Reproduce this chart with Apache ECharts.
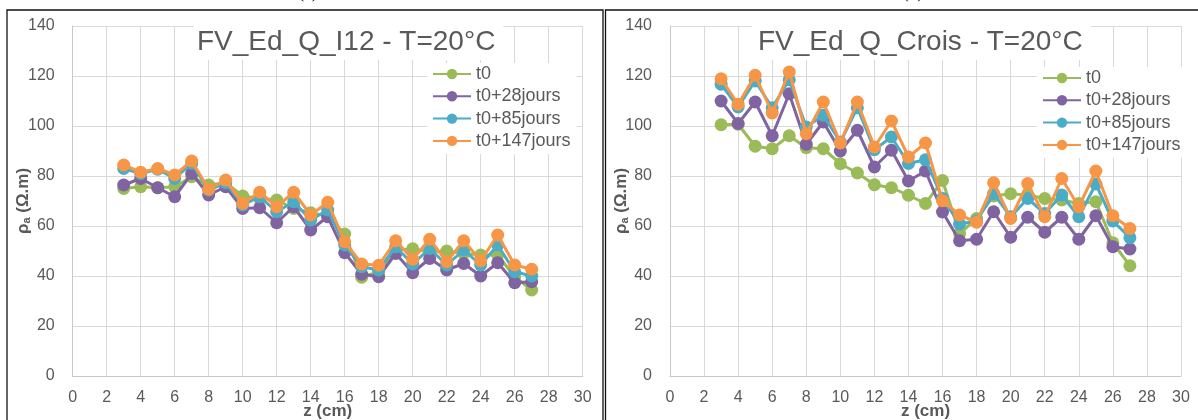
<!DOCTYPE html>
<html>
<head>
<meta charset="utf-8">
<script src="https://cdn.jsdelivr.net/npm/echarts@6/dist/echarts.min.js"></script>
<style>
html,body{margin:0;padding:0;background:#fff;}
#c{width:1198px;height:420px;}
</style>
</head>
<body>
<div id="c"></div>
<script>
// ---- data ----
const z = [3,4,5,6,7,8,9,10,11,12,13,14,15,16,17,18,19,20,21,22,23,24,25,26,27];
const seriesNames = ['t0','t0+28jours','t0+85jours','t0+147jours'];
const xTicks = [0,2,4,6,8,10,12,14,16,18,20,22,24,26,28,30];
const yTicks = [0,20,40,60,80,100,120,140];

// Left panel: FV_Ed_Q_I12
const leftT0   = [75,75.7,75.3,75.7,79.7,76.4,77.3,72,71,70.4,67,65.3,64,56.8,39.5,41.7,50.4,50.9,49.5,50,49,48.4,48.4,39.7,34.4];
const leftT28  = [76.4,79,75.3,71.7,81,72.4,75.7,67,67.3,61.3,67.7,58.4,63.7,49.3,40.7,39.7,49,41.3,47,42.4,45,40,45.3,37.3,37.7];
const leftT85  = [83,81,82.7,79,85,74.4,77.3,68.4,71.7,65.7,69.7,62.4,66.4,52.4,43.7,42.4,51.7,44.8,51,44.4,50.4,44.4,52.4,41.7,40];
const leftT147 = [84.4,81.5,83,80.4,86,74.7,78.4,69,73.5,67.7,73.5,64.4,69.5,53.7,44.8,44.3,54.1,46.7,54.7,45.7,54.1,46.1,56.4,44.4,42.7];

// Right panel: FV_Ed_Q_Crois
const rightT0   = [100.5,100.7,91.9,90.9,96.1,91.3,90.9,84.9,81.2,76.5,75.3,72.3,69,78.2,57,63,72,72.9,72.4,71,70.4,69,69.7,53.3,44.1];
const rightT28  = [110,101,109.6,96.1,112.9,92.7,101.6,90,98.3,83.6,90.3,78,82,65.6,54.1,54.7,65.7,55.5,63.5,57.5,63.5,54.7,64.1,51.7,50.8];
const rightT85  = [116.7,107.6,118,107.3,118.5,99.6,104.3,93.6,107.3,90.5,95.6,85,86.5,71,60.8,62,73,63.7,71,65,72.4,63.7,76.8,62,55.3];
const rightT147 = [118.9,108.7,120.3,105.2,121.6,96.9,109.6,93.2,109.6,91.6,102,87.6,93.2,70.1,64.4,61.5,77.3,63,77,63.7,79,67.7,82,64.1,59];

const titles = ['FV_Ed_Q_I12 - T=20°C','FV_Ed_Q_Crois - T=20°C'];
const panelLabels = ['(a)','(b)'];
const xName = 'z (cm)';
// ---- end data ----

const colors = ['#9BBB59','#8064A2','#4BACC6','#F79646'];
const txt = '#595959';
const font = 'Liberation Sans, Arial, sans-serif';

function pairs(vals){ return z.map((x,i)=>[x, vals[i]]); }

const chart = echarts.init(document.getElementById('c'), null, {renderer:'canvas'});

function xAxis(idx){
  return {
    type:'value', gridIndex:idx, min:xTicks[0], max:xTicks[xTicks.length-1], interval:2,
    name:xName, nameLocation:'middle', nameGap:27, nameMoveOverlap:false,
    nameTextStyle:{color:txt, fontSize:17, fontWeight:'bold', fontFamily:font},
    axisLine:{show:true, lineStyle:{color:'#c8c8c8', width:1}},
    axisTick:{show:false},
    axisLabel:{color:txt, fontSize:16, fontFamily:font, margin:14},
    splitLine:{show:true, lineStyle:{color:'#d9d9d9', width:1}}
  };
}
function yAxis(idx){
  return {
    type:'value', gridIndex:idx, min:yTicks[0], max:yTicks[yTicks.length-1], interval:20,
    name:'{b|ρ}{s|a}{b| (Ω.m)}', nameLocation:'middle', nameGap:40, nameRotate:90, nameMoveOverlap:false,
    nameTextStyle:{rich:{
      b:{color:txt, fontSize:17, fontWeight:'bold', fontFamily:font, lineHeight:18},
      s:{color:txt, fontSize:11, fontWeight:'bold', fontFamily:font, verticalAlign:'bottom', lineHeight:18}
    }},
    axisLine:{show:true, lineStyle:{color:'#c8c8c8', width:1}},
    axisTick:{show:false},
    axisLabel:{color:txt, fontSize:16, fontFamily:font, margin:18},
    splitLine:{show:true, lineStyle:{color:'#d9d9d9', width:1}}
  };
}

const leftData = [leftT0,leftT28,leftT85,leftT147];
const rightData = [rightT0,rightT28,rightT85,rightT147];
const series = [];
[leftData,rightData].forEach((set,gi)=>{
  set.forEach((vals,si)=>{
    series.push({
      name:seriesNames[si], type:'line', xAxisIndex:gi, yAxisIndex:gi,
      data:pairs(vals), symbol:'circle', symbolSize:13, showSymbol:true,
      lineStyle:{color:colors[si], width:3},
      itemStyle:{color:colors[si], borderWidth:0},
      emphasis:{disabled:true}, animation:false, z:2+si
    });
  });
});

function legend(left, top){
  return {
    data:seriesNames, orient:'vertical', left:left, top:top,
    backgroundColor:'#fff', padding:[2,6,4,5], itemGap:4.3,
    itemWidth:38, itemHeight:13,
    textStyle:{color:txt, fontSize:18, fontFamily:font, lineHeight:18},
    selectedMode:false
  };
}

const option = {
  animation:false,
  backgroundColor:'#fff',
  color:colors,
  title:[
    {text:titles[0], left:194, top:24, backgroundColor:'#fff', padding:[3,8,3,3],
     textStyle:{color:txt, fontSize:28, fontWeight:'normal', fontFamily:font, lineHeight:30}},
    {text:titles[1], left:752, top:24, backgroundColor:'#fff', padding:[3,8,3,6],
     textStyle:{color:txt, fontSize:28, fontWeight:'normal', fontFamily:font, lineHeight:30}}
  ],
  legend:[legend(427,63), legend(1037,67)],
  grid:[
    {left:72.7, top:26, width:510, height:350, outerBoundsMode:'none', containLabel:false},
    {left:670, top:26, width:511, height:350, outerBoundsMode:'none', containLabel:false}
  ],
  xAxis:[xAxis(0), xAxis(1)],
  yAxis:[yAxis(0), yAxis(1)],
  series:series,
  graphic:[
    {type:'rect', shape:{x:7, y:10, width:596, height:430}, style:{fill:'none', stroke:'#111', lineWidth:1.3}, z:100},
    {type:'rect', shape:{x:605.5, y:10, width:620, height:430}, style:{fill:'none', stroke:'#111', lineWidth:1.3}, z:100},
    {type:'text', x:308, y:-6, style:{text:panelLabels[0], fill:'#000', font:'17px "Liberation Serif", serif', textAlign:'center', textVerticalAlign:'middle'}, z:100},
    {type:'text', x:913, y:-6, style:{text:panelLabels[1], fill:'#000', font:'17px "Liberation Serif", serif', textAlign:'center', textVerticalAlign:'middle'}, z:100}
  ]
};
chart.setOption(option);
</script>
</body>
</html>
